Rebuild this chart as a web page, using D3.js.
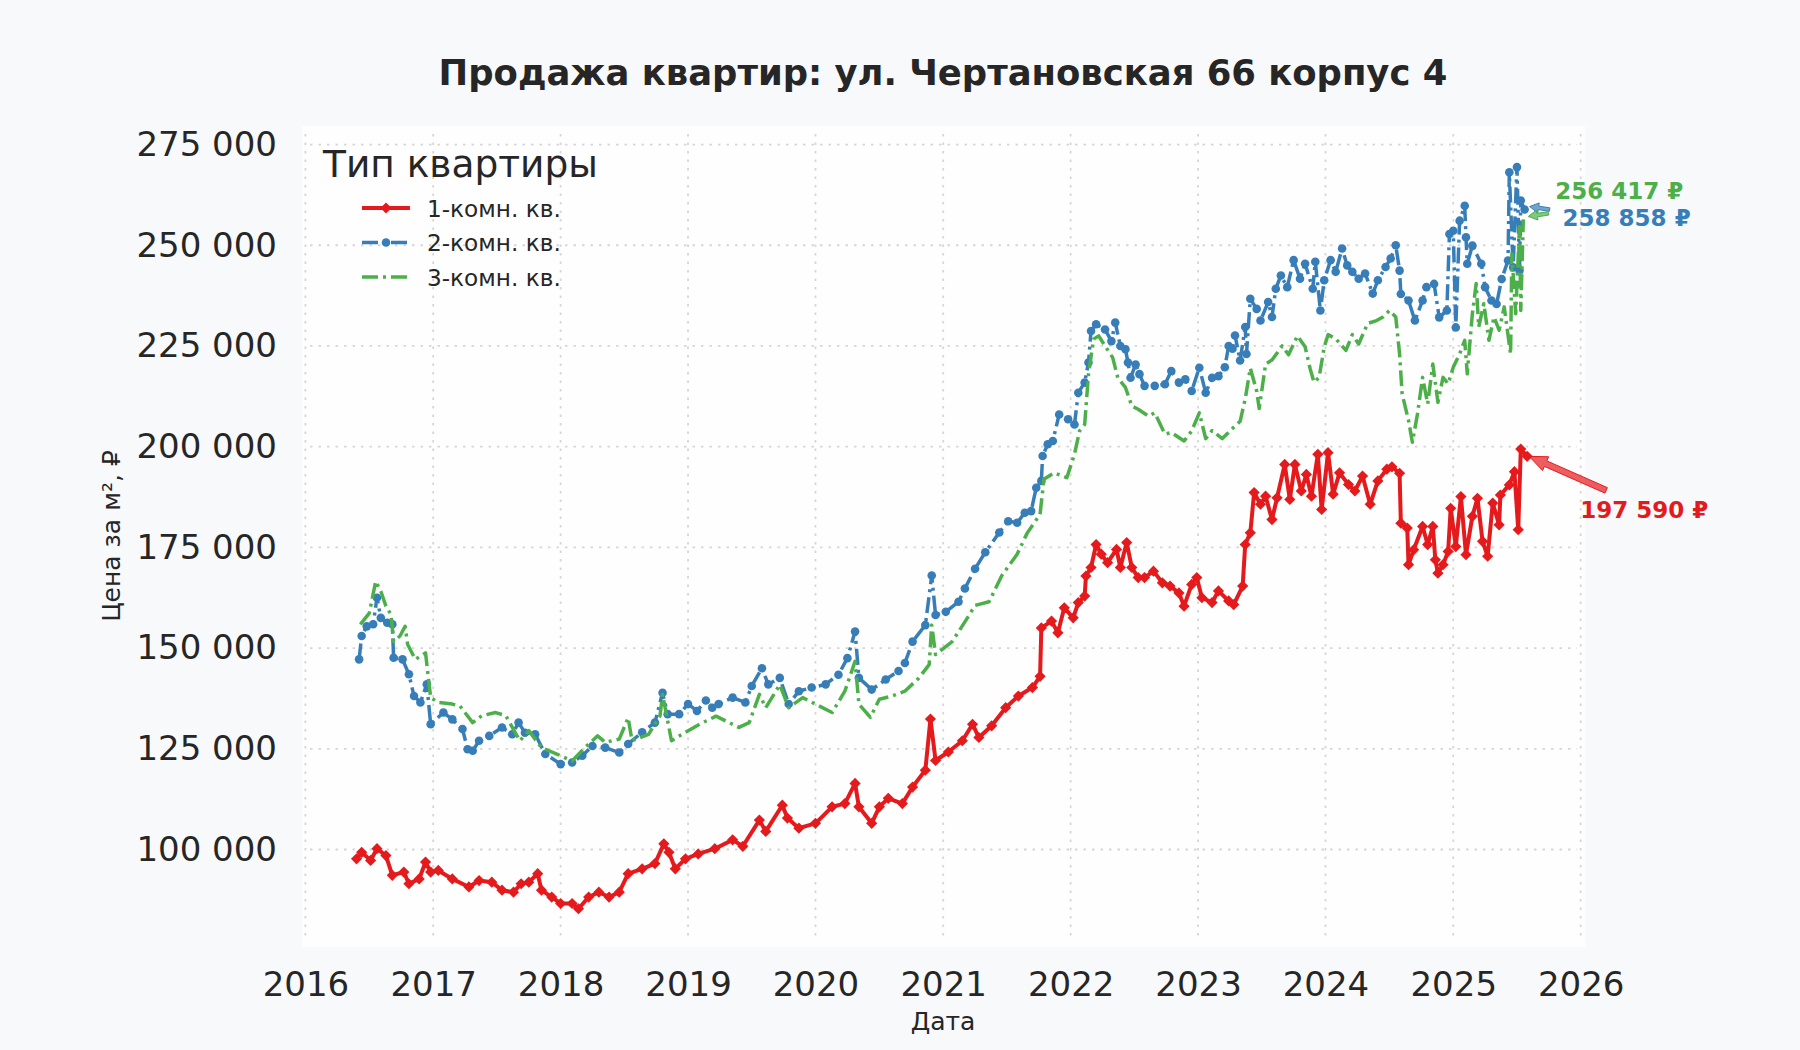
<!DOCTYPE html>
<html>
<head>
<meta charset="utf-8">
<script src="https://cdn.jsdelivr.net/npm/d3@7"></script>
<style>
  body { margin: 0; background: #f8f9fb; }
  svg { display: block; font-family: "DejaVu Sans", sans-serif; }
</style>
</head>
<body>
<svg id="chart" width="1800" height="1050"></svg>
<script>
// --- data ---
var yearTicks = [2016, 2017, 2018, 2019, 2020, 2021, 2022, 2023, 2024, 2025, 2026];
var priceTicks = [100000, 125000, 150000, 175000, 200000, 225000, 250000, 275000];
var seriesNames = ["1-комн. кв.", "2-комн. кв.", "3-комн. кв."];

// dates as decimal years, prices in rubles per m²
var oneRoomDates = [2016.40,2016.44,2016.51,2016.56,2016.63,2016.68,2016.77,2016.81,2016.89,2016.94,2016.98,2017.04,2017.15,2017.28,2017.36,2017.46,2017.54,2017.63,2017.69,2017.75,2017.82,2017.85,2017.93,2018.00,2018.09,2018.14,2018.22,2018.30,2018.38,2018.46,2018.53,2018.64,2018.74,2018.81,2018.85,2018.90,2018.98,2019.08,2019.21,2019.35,2019.43,2019.56,2019.61,2019.74,2019.78,2019.87,2020.00,2020.13,2020.23,2020.31,2020.34,2020.44,2020.50,2020.57,2020.68,2020.76,2020.86,2020.90,2020.94,2021.04,2021.15,2021.23,2021.28,2021.38,2021.49,2021.59,2021.70,2021.76,2021.77,2021.85,2021.90,2021.95,2022.02,2022.06,2022.11,2022.12,2022.16,2022.20,2022.24,2022.29,2022.36,2022.39,2022.44,2022.48,2022.53,2022.58,2022.65,2022.72,2022.78,2022.85,2022.89,2022.95,2022.99,2023.03,2023.11,2023.16,2023.24,2023.28,2023.35,2023.37,2023.41,2023.44,2023.49,2023.53,2023.58,2023.62,2023.68,2023.72,2023.76,2023.81,2023.85,2023.89,2023.94,2023.97,2024.02,2024.06,2024.11,2024.18,2024.23,2024.29,2024.35,2024.41,2024.48,2024.52,2024.58,2024.59,2024.64,2024.65,2024.69,2024.76,2024.80,2024.84,2024.86,2024.88,2024.92,2024.96,2024.98,2025.02,2025.06,2025.10,2025.15,2025.19,2025.23,2025.27,2025.31,2025.36,2025.37,2025.44,2025.48,2025.51,2025.53,2025.58];
var oneRoomPrices = [97700,99300,97300,100200,98500,93600,94400,91500,92700,96900,94400,94800,92700,90700,92300,91900,89900,89400,91500,91900,94000,89900,88200,86600,86600,85300,88200,89400,88200,89400,94000,95200,96500,101400,99300,95200,97700,98900,100200,102400,100800,107300,104500,111000,107800,105300,106500,110600,111400,116400,110600,106500,110600,112700,111400,115500,119700,132400,122100,124200,127000,131100,127800,130700,135200,138100,140200,143000,155000,156700,153800,160000,157500,161300,162900,167900,170000,175700,173300,171200,174500,170000,176200,170000,167500,167500,169100,166200,165400,163700,160400,165800,167500,162500,161300,164200,161700,160800,165400,175700,178600,188600,185700,187700,181900,187300,195600,186900,195600,189000,193100,187700,198100,184400,198500,188200,193500,190600,189000,192700,185700,191500,194400,195000,193400,181000,179800,170700,174400,180200,175700,180200,171900,168600,170700,174000,184700,175200,187600,173200,182700,187200,176500,172800,186000,180600,188000,190500,193800,179400,199400,197590];

var twoRoomDates = [2016.42,2016.44,2016.48,2016.53,2016.56,2016.59,2016.64,2016.68,2016.69,2016.76,2016.81,2016.85,2016.90,2016.95,2016.98,2017.08,2017.15,2017.23,2017.27,2017.31,2017.36,2017.44,2017.54,2017.62,2017.67,2017.72,2017.80,2017.88,2018.00,2018.09,2018.17,2018.25,2018.35,2018.46,2018.53,2018.64,2018.74,2018.80,2018.84,2018.93,2019.00,2019.07,2019.14,2019.19,2019.24,2019.35,2019.45,2019.50,2019.58,2019.63,2019.72,2019.79,2019.87,2019.97,2020.08,2020.18,2020.25,2020.31,2020.34,2020.44,2020.55,2020.65,2020.70,2020.76,2020.86,2020.91,2020.94,2021.02,2021.12,2021.17,2021.25,2021.33,2021.44,2021.51,2021.58,2021.64,2021.69,2021.73,2021.77,2021.78,2021.82,2021.86,2021.91,2021.98,2022.03,2022.06,2022.11,2022.14,2022.16,2022.20,2022.27,2022.32,2022.35,2022.39,2022.43,2022.45,2022.47,2022.51,2022.54,2022.58,2022.66,2022.74,2022.79,2022.85,2022.90,2022.95,2023.01,2023.06,2023.11,2023.16,2023.21,2023.24,2023.27,2023.29,2023.33,2023.37,2023.38,2023.41,2023.46,2023.49,2023.55,2023.58,2023.61,2023.65,2023.70,2023.75,2023.80,2023.84,2023.90,2023.92,2023.96,2023.99,2024.04,2024.08,2024.13,2024.17,2024.21,2024.26,2024.31,2024.37,2024.41,2024.47,2024.51,2024.55,2024.58,2024.59,2024.65,2024.70,2024.76,2024.79,2024.85,2024.89,2024.95,2024.97,2025.00,2025.02,2025.05,2025.09,2025.10,2025.11,2025.15,2025.22,2025.25,2025.30,2025.34,2025.38,2025.43,2025.44,2025.47,2025.50,2025.52,2025.53,2025.56];
var twoRoomPrices = [147200,153000,155400,155900,162500,157500,156300,155900,147600,147200,143500,138100,136500,141000,131100,134000,132300,129900,124900,124500,127000,128200,130300,128600,131500,129000,128600,123700,121200,121600,123300,125700,125300,124100,126200,129100,131500,138900,133600,133600,136100,134400,137000,135200,136100,137700,136500,140600,145000,141000,142600,136100,139300,140200,141000,143400,147500,154100,142600,139700,142200,144300,146300,151600,155700,168000,158200,159000,161500,164800,169700,173800,178700,181500,181100,183600,184000,189800,191500,197700,200600,201400,208000,206800,205500,213400,215900,220900,228700,230400,229100,226200,230800,225000,224200,220900,217100,220400,218000,215100,215100,215500,218800,215900,216700,213800,219600,213400,217100,217500,219700,225000,224300,227600,221400,229700,223000,236700,234200,231300,235900,232200,239200,242500,239600,246300,241700,245400,239200,245900,233800,241300,246300,243400,249200,245000,243400,241700,243000,238000,241300,244600,246700,250000,243700,237900,236300,231300,236300,239600,240400,232100,233800,252800,253600,229600,256100,259800,252000,245400,249900,245400,239600,236300,235400,241600,246200,268100,244500,269400,243700,261100,258858];

var threeRoomDates = [2016.43,2016.50,2016.55,2016.59,2016.63,2016.67,2016.69,2016.74,2016.78,2016.80,2016.86,2016.94,2016.98,2017.04,2017.15,2017.21,2017.31,2017.38,2017.49,2017.57,2017.68,2017.75,2017.85,2017.97,2018.09,2018.19,2018.29,2018.35,2018.46,2018.53,2018.56,2018.69,2018.78,2018.80,2018.87,2018.98,2019.09,2019.22,2019.40,2019.48,2019.56,2019.61,2019.72,2019.79,2019.90,2020.00,2020.13,2020.23,2020.31,2020.34,2020.43,2020.50,2020.60,2020.70,2020.81,2020.89,2020.91,2020.94,2021.07,2021.17,2021.25,2021.36,2021.46,2021.58,2021.66,2021.76,2021.79,2021.87,2021.97,2022.03,2022.07,2022.11,2022.14,2022.18,2022.22,2022.27,2022.33,2022.37,2022.43,2022.48,2022.53,2022.61,2022.66,2022.74,2022.79,2022.89,2022.95,2023.01,2023.06,2023.11,2023.19,2023.27,2023.33,2023.37,2023.41,2023.46,2023.48,2023.53,2023.58,2023.66,2023.71,2023.78,2023.84,2023.88,2023.91,2023.95,2023.99,2024.02,2024.08,2024.16,2024.21,2024.26,2024.33,2024.40,2024.45,2024.50,2024.55,2024.58,2024.60,2024.65,2024.68,2024.72,2024.76,2024.80,2024.84,2024.88,2024.92,2024.96,2025.00,2025.05,2025.09,2025.11,2025.15,2025.18,2025.20,2025.24,2025.28,2025.32,2025.36,2025.40,2025.45,2025.46,2025.49,2025.52,2025.53,2025.55];
var threeRoomPrices = [155900,158700,166600,164100,160400,158300,151700,153000,155400,150900,147200,148800,137700,136500,136100,135600,131500,133200,134000,133200,127000,129500,125300,123700,122000,125300,128200,126600,127400,132700,127000,128600,133200,138500,127000,129100,131100,133100,130300,131500,138500,135200,140900,135200,137700,136100,134000,139300,146700,136100,132800,137300,138100,139300,142600,145900,155700,148400,151600,156500,160600,161500,168000,173300,178600,183200,191900,193500,192300,198100,203900,205500,218000,226700,227500,225000,222100,217100,214700,210100,209300,207600,208400,203100,203500,201400,203900,208400,202000,204000,202000,204500,206300,211800,219500,213800,209500,220500,221500,225000,222800,227500,224800,219300,216000,217200,224700,227800,226800,223900,227800,225500,230600,231300,232200,233800,232200,223000,213100,206500,201100,208100,217200,210600,220500,211000,217200,215600,219700,223000,226400,218100,233000,240500,229700,235500,226400,232200,228900,234700,223000,247900,233000,254600,233800,256417];

var seriesColors = ["#e41a1c", "#377eb8", "#4daf4a"];

// --- helpers ---
function yearToDate(y) {
    var yr = Math.floor(y);
    var start = new Date(yr, 0, 1), end = new Date(yr + 1, 0, 1);
    return new Date(+start + (y - yr) * (end - start));
}
function zipSeries(dates, prices) {
    return dates.map(function(d, i) { return {date: yearToDate(d), price: prices[i]}; });
}

var ru = d3.formatLocale({decimal: ",", thousands: " ", grouping: [3], currency: ["", " ₽"]});
var fmt = ru.format(",");

var series = [
    {name: seriesNames[0], color: seriesColors[0], values: zipSeries(oneRoomDates, oneRoomPrices), dash: null, marker: "diamond", width: 4},
    {name: seriesNames[1], color: seriesColors[1], values: zipSeries(twoRoomDates, twoRoomPrices), dash: "16,5,3,5", marker: "circle", width: 3.5},
    {name: seriesNames[2], color: seriesColors[2], values: zipSeries(threeRoomDates, threeRoomPrices), dash: "16,5,3,5", marker: null, width: 3.5}
];

var svg = d3.select("#chart");
var plot = {left: 302, right: 1585, top: 126, bottom: 947};

svg.append("rect").attr("width", 1800).attr("height", 1050).attr("fill", "#f8f9fb");
svg.append("rect")
    .attr("x", plot.left).attr("y", plot.top)
    .attr("width", plot.right - plot.left).attr("height", plot.bottom - plot.top)
    .attr("fill", "#fefefe");

var x = d3.scaleTime()
    .domain([yearToDate(2015.973), yearToDate(2026.034)])
    .range([plot.left, plot.right]);
var y = d3.scaleLinear()
    .domain([75800, 279600])
    .range([plot.bottom, plot.top]);

// grid
var grid = svg.append("g").attr("class", "grid")
    .attr("stroke", "#d6d6d6").attr("stroke-width", 1.8).attr("stroke-dasharray", "2.5,6");
grid.selectAll(".gx").data(yearTicks).enter().append("line")
    .attr("x1", function(d) { return x(yearToDate(d)); })
    .attr("x2", function(d) { return x(yearToDate(d)); })
    .attr("y1", plot.top + 8).attr("y2", plot.bottom - 8);
grid.selectAll(".gy").data(priceTicks).enter().append("line")
    .attr("y1", function(d) { return y(d); })
    .attr("y2", function(d) { return y(d); })
    .attr("x1", plot.left + 8).attr("x2", plot.right - 8);

// axes
var xAxis = svg.append("g")
    .attr("transform", "translate(0," + plot.bottom + ")")
    .call(d3.axisBottom(x).tickValues(yearTicks.map(yearToDate))
        .tickFormat(d3.timeFormat("%Y")).tickSize(0).tickPadding(25));
var yAxis = svg.append("g")
    .attr("transform", "translate(" + plot.left + ",0)")
    .call(d3.axisLeft(y).tickValues(priceTicks).tickFormat(fmt).tickSize(0).tickPadding(25));
[xAxis, yAxis].forEach(function(a) {
    a.select(".domain").remove();
    a.selectAll("text").attr("font-size", 34).attr("fill", "#262626")
        .attr("font-family", "DejaVu Sans");
});

// lines
var line = d3.line()
    .x(function(d) { return x(d.date); })
    .y(function(d) { return y(d.price); });

var diamond = d3.symbol().type(d3.symbolDiamond2).size(80);

series.forEach(function(s) {
    var g = svg.append("g");
    g.append("path")
        .datum(s.values)
        .attr("d", line)
        .attr("fill", "none")
        .attr("stroke", s.color)
        .attr("stroke-width", s.width)
        .attr("stroke-linejoin", "round")
        .attr("stroke-dasharray", s.dash);
    if (s.marker === "diamond") {
        g.selectAll("path.m").data(s.values).enter().append("path")
            .attr("class", "m")
            .attr("d", diamond)
            .attr("transform", function(d) { return "translate(" + x(d.date) + "," + y(d.price) + ")"; })
            .attr("fill", s.color);
    } else if (s.marker === "circle") {
        g.selectAll("circle").data(s.values).enter().append("circle")
            .attr("cx", function(d) { return x(d.date); })
            .attr("cy", function(d) { return y(d.price); })
            .attr("r", 4.3)
            .attr("fill", s.color);
    }
});

// annotations for last values
function arrow(x0, y0, x1, y1, shaftW, headW, headL) {
    var dx = x1 - x0, dy = y1 - y0, len = Math.sqrt(dx * dx + dy * dy);
    var ux = dx / len, uy = dy / len, px = -uy, py = ux;
    var bx = x1 - ux * headL, by = y1 - uy * headL;
    var pts = [
        [x0 + px * shaftW / 2, y0 + py * shaftW / 2],
        [bx + px * shaftW / 2, by + py * shaftW / 2],
        [bx + px * headW / 2, by + py * headW / 2],
        [x1, y1],
        [bx - px * headW / 2, by - py * headW / 2],
        [bx - px * shaftW / 2, by - py * shaftW / 2],
        [x0 - px * shaftW / 2, y0 - py * shaftW / 2]
    ];
    return "M" + pts.map(function(p) { return p.join(","); }).join("L") + "Z";
}

var annotations = [
    {s: series[0], dx: 53, dy: 54, tx: 79, ty: 34, big: true},
    {s: series[1], dx: 38, dy: 8, tx: 25, ty: 0, big: false},
    {s: series[2], dx: 32, dy: -28, tx: 25, ty: -6, big: false}
];
annotations.forEach(function(a) {
    var last = a.s.values[a.s.values.length - 1];
    var px = x(last.date), py = y(last.price);
    svg.append("path")
        .attr("d", a.big ? arrow(px + a.tx, py + a.ty, px + 2, py, 6, 15, 18)
                         : arrow(px + a.tx, py + a.ty, px + 5, py + (a.ty > 0 ? 0 : -3), 3.5, 10, 9))
        .attr("fill", a.s.color).attr("fill-opacity", 0.7)
        .attr("stroke", a.s.color).attr("stroke-width", 1);
    svg.append("text")
        .attr("x", px + a.dx).attr("y", py + a.dy)
        .attr("dominant-baseline", "central")
        .attr("font-size", 23).attr("font-weight", "bold")
        .attr("fill", a.s.color)
        .text(fmt(Math.round(last.price)) + " ₽");
});

// legend
var legend = svg.append("g").attr("transform", "translate(323,0)");
legend.append("text").attr("x", 0).attr("y", 164)
    .attr("dominant-baseline", "central")
    .attr("font-size", 37.5).attr("fill", "#262626")
    .text("Тип квартиры");
series.forEach(function(s, i) {
    var ly = 208 + i * 34.5;
    legend.append("line")
        .attr("x1", 39).attr("x2", 87).attr("y1", ly).attr("y2", ly)
        .attr("stroke", s.color).attr("stroke-width", s.width)
        .attr("stroke-dasharray", s.dash);
    if (s.marker === "diamond") {
        legend.append("path").attr("d", diamond)
            .attr("transform", "translate(63," + ly + ")").attr("fill", s.color);
    } else if (s.marker === "circle") {
        legend.append("circle").attr("cx", 63).attr("cy", ly).attr("r", 4.3).attr("fill", s.color);
    }
    legend.append("text").attr("x", 104).attr("y", ly)
        .attr("dominant-baseline", "central")
        .attr("font-size", 23.2).attr("fill", "#262626")
        .text(s.name);
});

// titles
svg.append("text").attr("x", 943).attr("y", 72)
    .attr("text-anchor", "middle").attr("dominant-baseline", "central")
    .attr("font-size", 35.4).attr("font-weight", "bold").attr("fill", "#262626")
    .text("Продажа квартир: ул. Чертановская 66 корпус 4");
svg.append("text").attr("x", 943).attr("y", 1021)
    .attr("text-anchor", "middle").attr("dominant-baseline", "central")
    .attr("font-size", 25).attr("fill", "#262626")
    .text("Дата");
svg.append("text")
    .attr("transform", "translate(111,536) rotate(-90)")
    .attr("text-anchor", "middle").attr("dominant-baseline", "central")
    .attr("font-size", 25).attr("fill", "#262626")
    .text("Цена за м², ₽");
</script>
</body>
</html>
